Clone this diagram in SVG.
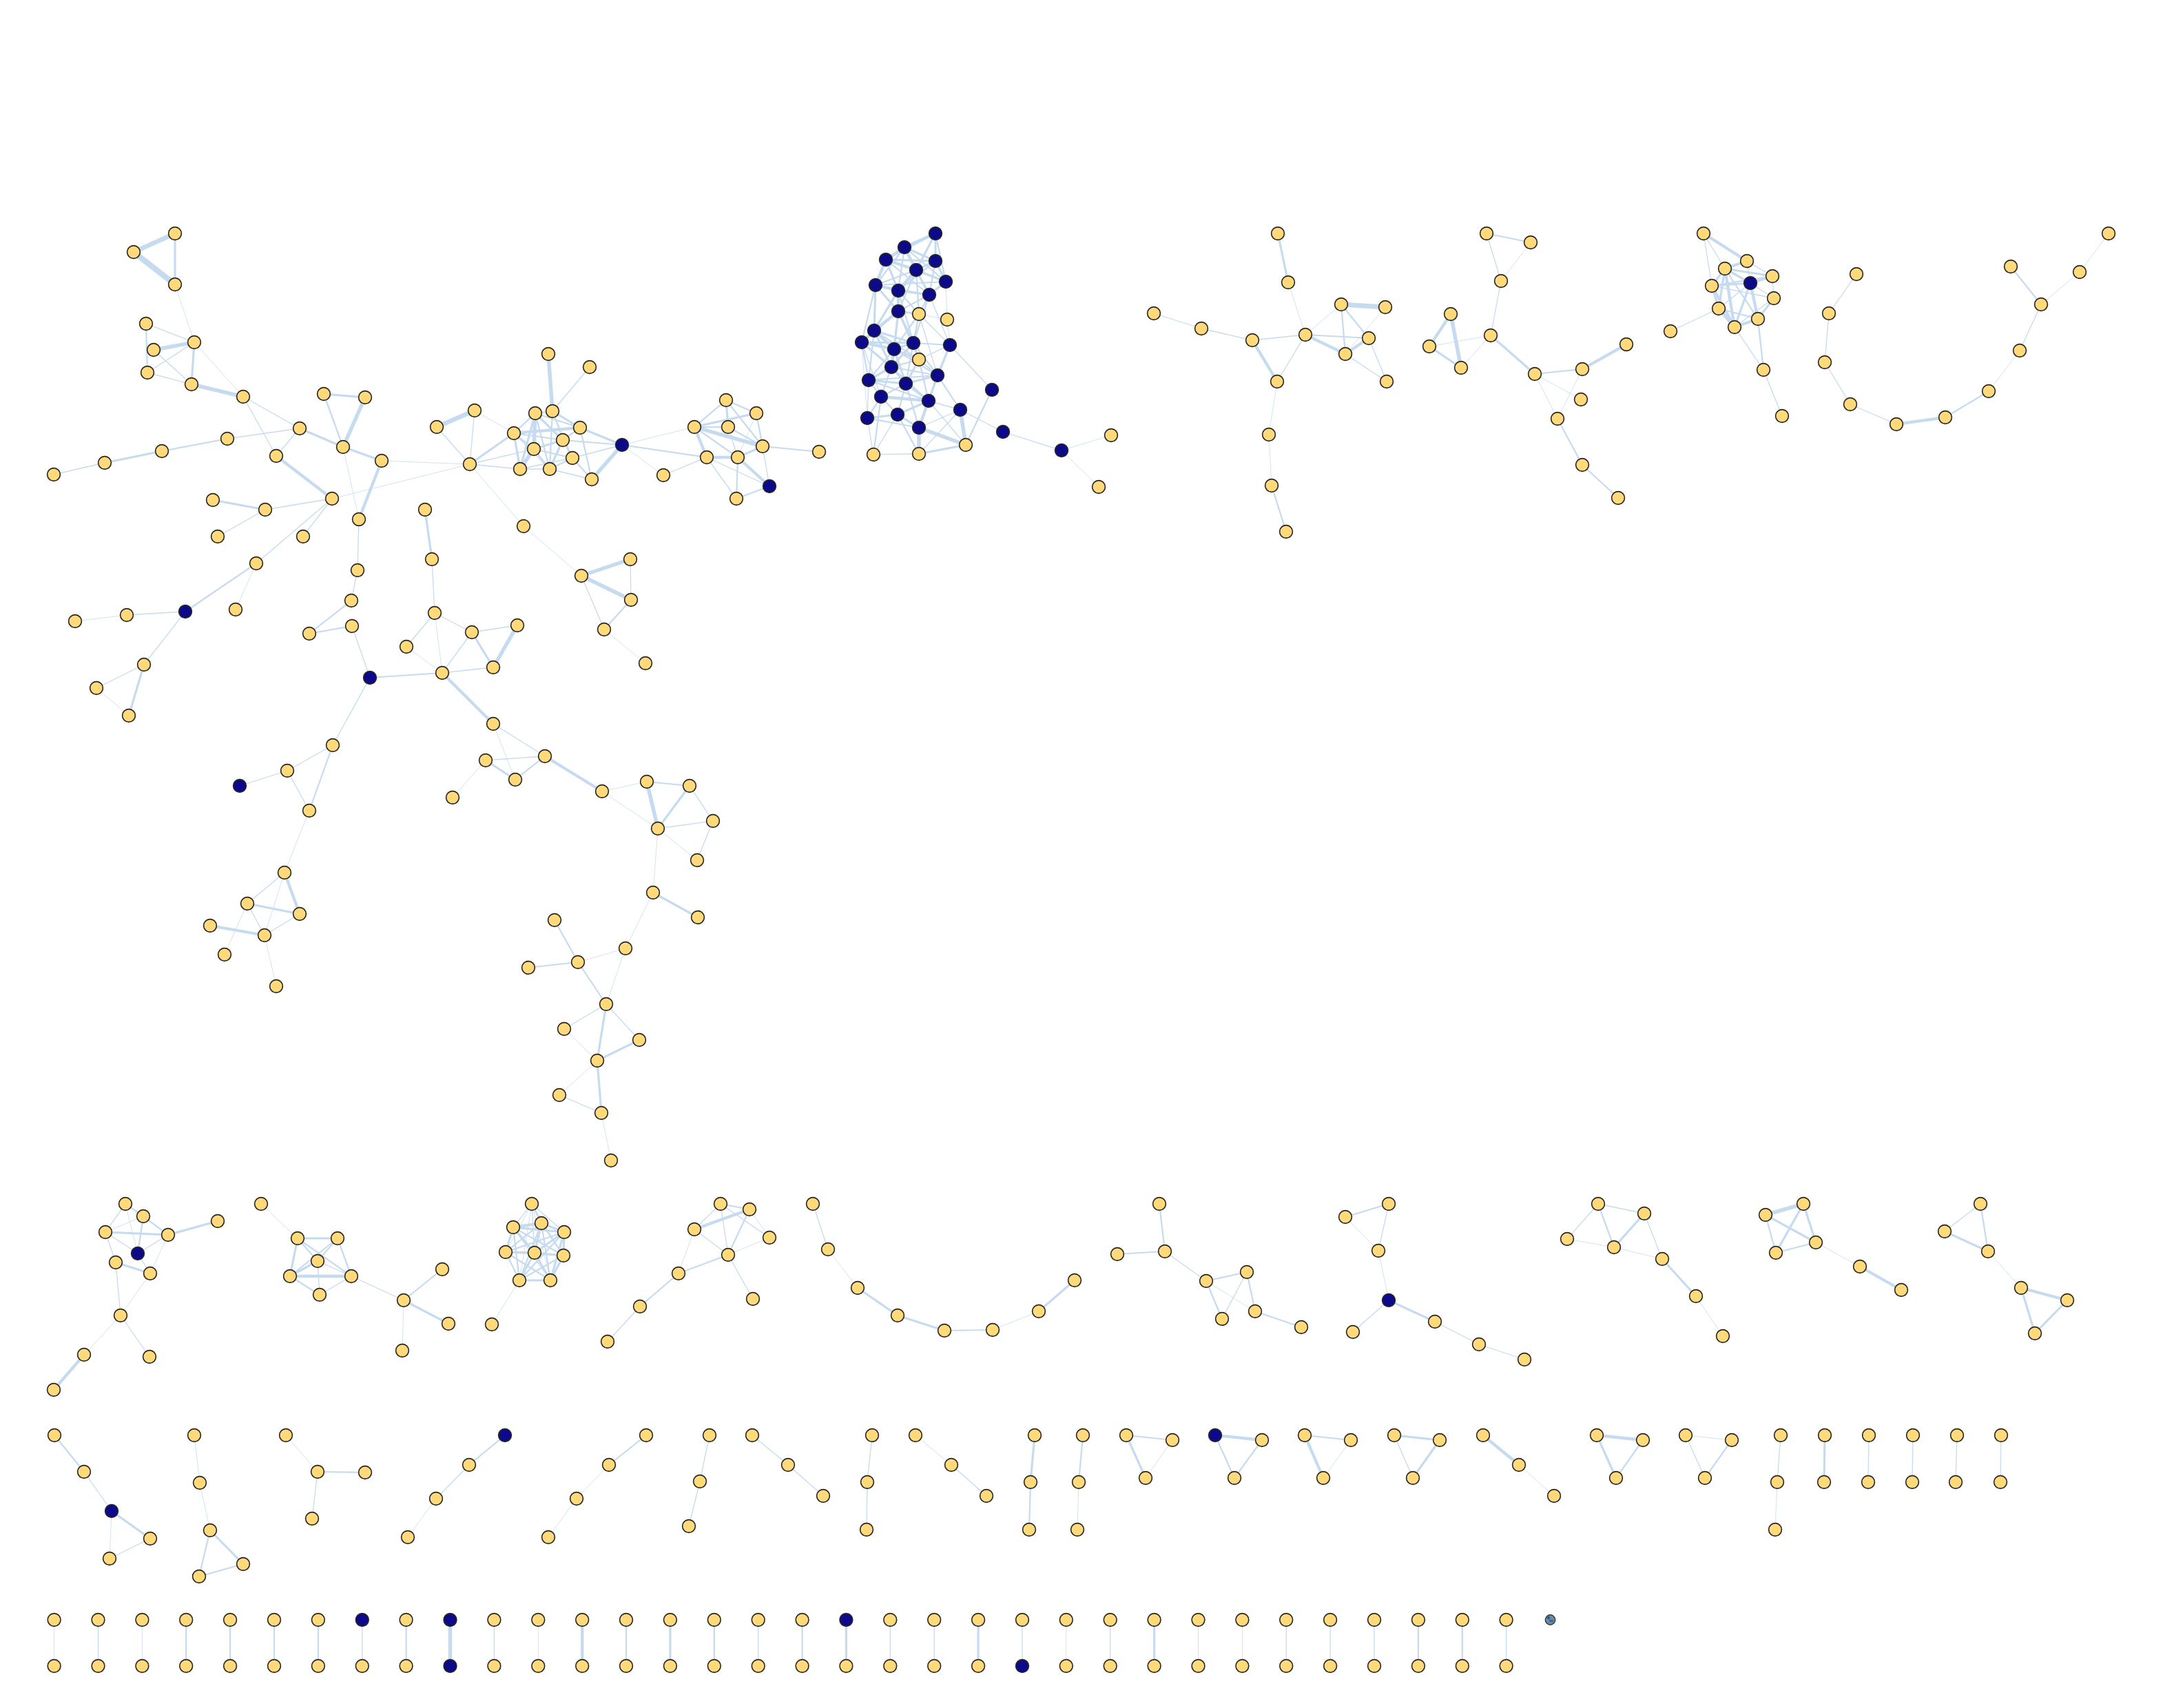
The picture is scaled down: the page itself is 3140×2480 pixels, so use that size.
<svg xmlns="http://www.w3.org/2000/svg" width="3140" height="2480" viewBox="0 0 3140 2480">
<style>
.a{stroke-width:.8}.b{stroke-width:1.3}.c{stroke-width:2.2}.d{stroke-width:3.2}.e{stroke-width:4.3}.f{stroke-width:5.5}.g{stroke-width:6.8}.h{stroke-width:8.5}
.y{fill:#ffd97a;stroke:#262626;stroke-width:1.6;r:9.4px}
.k{fill:#0c0a8a;stroke:#262626;stroke-width:1.6;r:9.4px}
</style>
<rect width="3140" height="2480" fill="#ffffff"/>
<g id="connectors" fill="none" stroke="#c6dbef">
<path class="g" d="M254 339L194 366"/><path class="h" d="M194 366L254 413"/><path class="d" d="M254 339L254 413"/><path class="a" d="M254 413L282 497"/>
<path class="b" d="M212 470L282 497"/><path class="c" d="M212 470L214 541"/><path class="f" d="M223 508L282 497"/><path class="b" d="M223 508L278 558"/>
<path class="b" d="M214 541L282 497"/><path class="b" d="M214 541L278 558"/><path class="d" d="M282 497L278 558"/><path class="f" d="M278 558L353 576"/>
<path class="a" d="M282 497L353 576"/><path class="b" d="M353 576L435 622"/><path class="b" d="M353 576L401 662"/><path class="b" d="M435 622L401 662"/>
<path class="b" d="M435 622L330 637"/><path class="c" d="M330 637L235 655"/><path class="d" d="M235 655L152 672"/><path class="b" d="M152 672L78 689"/>
<path class="d" d="M470 572L530 577"/><path class="c" d="M470 572L498 649"/><path class="f" d="M530 577L498 649"/><path class="d" d="M435 622L498 649"/>
<path class="d" d="M498 649L554 669"/><path class="e" d="M554 669L521 754"/><path class="a" d="M498 649L521 754"/><path class="b" d="M521 754L519 828"/>
<path class="b" d="M519 828L510 872"/><path class="a" d="M554 669L682 674"/><path class="e" d="M401 662L482 724"/><path class="a" d="M482 724L682 674"/>
<path class="b" d="M482 724L385 740"/><path class="d" d="M309 726L385 740"/><path class="b" d="M385 740L316 779"/><path class="b" d="M482 724L440 779"/>
<path class="b" d="M482 724L372 818"/><path class="c" d="M372 818L269 888"/><path class="a" d="M372 818L342 885"/><path class="b" d="M269 888L184 893"/>
<path class="a" d="M184 893L109 902"/><path class="b" d="M269 888L209 965"/><path class="b" d="M209 965L140 999"/><path class="d" d="M209 965L187 1039"/>
<path class="a" d="M140 999L187 1039"/><path class="c" d="M510 872L449 920"/><path class="c" d="M449 920L511 909"/><path class="b" d="M511 909L537 984"/>
<path class="c" d="M537 984L642 977"/><path class="b" d="M537 984L483 1082"/><path class="b" d="M483 1082L417 1119"/><path class="c" d="M483 1082L449 1177"/>
<path class="b" d="M417 1119L348 1141"/><path class="b" d="M417 1119L449 1177"/><path class="a" d="M449 1177L413 1267"/><path class="b" d="M413 1267L359 1312"/>
<path class="e" d="M413 1267L435 1327"/><path class="a" d="M413 1267L384 1358"/><path class="d" d="M359 1312L435 1327"/><path class="b" d="M359 1312L384 1358"/>
<path class="a" d="M359 1312L326 1386"/><path class="e" d="M305 1344L384 1358"/><path class="b" d="M435 1327L384 1358"/><path class="a" d="M384 1358L401 1432"/>
<path class="g" d="M634 620L689 596"/><path class="b" d="M634 620L682 674"/><path class="b" d="M689 596L682 674"/><path class="a" d="M689 596L746 629"/>
<path class="a" d="M682 674L760 764"/><path class="d" d="M617 740L627 812"/><path class="b" d="M627 812L631 890"/><path class="b" d="M631 890L590 939"/>
<path class="b" d="M631 890L685 918"/><path class="a" d="M631 890L642 977"/><path class="a" d="M590 939L642 977"/><path class="b" d="M685 918L751 908"/>
<path class="d" d="M685 918L716 969"/><path class="f" d="M751 908L716 969"/><path class="b" d="M685 918L642 977"/><path class="b" d="M642 977L716 969"/>
<path class="e" d="M642 977L716 1051"/><path class="b" d="M716 1051L791 1098"/><path class="a" d="M716 1051L748 1132"/><path class="b" d="M705 1104L791 1098"/>
<path class="d" d="M705 1104L748 1132"/><path class="c" d="M748 1132L791 1098"/><path class="a" d="M705 1104L657 1158"/><path class="e" d="M791 1098L874 1149"/>
<path class="a" d="M874 1149L939 1135"/><path class="a" d="M874 1149L955 1203"/><path class="c" d="M939 1135L1001 1141"/><path class="f" d="M939 1135L955 1203"/>
<path class="d" d="M1001 1141L955 1203"/><path class="b" d="M955 1203L1035 1192"/><path class="b" d="M1001 1141L1035 1192"/><path class="a" d="M955 1203L1012 1249"/>
<path class="b" d="M1035 1192L1012 1249"/><path class="a" d="M955 1203L948 1296"/><path class="d" d="M948 1296L1013 1332"/><path class="a" d="M948 1296L908 1377"/>
<path class="a" d="M908 1377L839 1397"/><path class="c" d="M805 1336L839 1397"/><path class="c" d="M839 1397L767 1405"/><path class="c" d="M839 1397L880 1458"/>
<path class="a" d="M908 1377L880 1458"/><path class="b" d="M880 1458L819 1494"/><path class="b" d="M880 1458L928 1510"/><path class="d" d="M880 1458L867 1540"/>
<path class="d" d="M928 1510L867 1540"/><path class="a" d="M819 1494L867 1540"/><path class="a" d="M867 1540L812 1590"/><path class="d" d="M867 1540L873 1616"/>
<path class="b" d="M812 1590L873 1616"/><path class="a" d="M873 1616L887 1685"/><path class="f" d="M796 514L802 597"/><path class="b" d="M856 533L802 597"/>
<path class="a" d="M760 764L844 836"/><path class="f" d="M844 836L915 812"/><path class="f" d="M844 836L916 871"/><path class="b" d="M915 812L916 871"/>
<path class="c" d="M916 871L877 914"/><path class="b" d="M844 836L877 914"/><path class="a" d="M877 914L937 963"/>
<path class="c" d="M777 600L802 597"/><path class="c" d="M777 600L746 629"/><path class="f" d="M777 600L775 652"/><path class="d" d="M777 600L755 681"/>
<path class="d" d="M777 600L817 639"/><path class="c" d="M777 600L842 621"/><path class="c" d="M777 600L798 681"/><path class="d" d="M802 597L842 621"/>
<path class="b" d="M802 597L817 639"/><path class="c" d="M802 597L798 681"/><path class="b" d="M802 597L831 665"/><path class="e" d="M746 629L842 621"/>
<path class="c" d="M746 629L775 652"/><path class="c" d="M746 629L817 639"/><path class="d" d="M746 629L755 681"/><path class="b" d="M746 629L798 681"/>
<path class="c" d="M842 621L817 639"/><path class="d" d="M842 621L903 646"/><path class="c" d="M842 621L859 696"/><path class="d" d="M775 652L817 639"/>
<path class="c" d="M775 652L831 665"/><path class="f" d="M775 652L755 681"/><path class="c" d="M775 652L798 681"/><path class="c" d="M817 639L831 665"/>
<path class="d" d="M817 639L798 681"/><path class="c" d="M817 639L903 646"/><path class="c" d="M831 665L798 681"/><path class="c" d="M831 665L859 696"/>
<path class="b" d="M755 681L798 681"/><path class="b" d="M755 681L682 674"/><path class="b" d="M798 681L859 696"/><path class="f" d="M859 696L903 646"/>
<path class="d" d="M682 674L746 629"/><path class="b" d="M682 674L775 652"/><path class="b" d="M831 665L903 646"/><path class="b" d="M755 681L831 665"/>
<path class="c" d="M903 646L1026 664"/><path class="a" d="M903 646L1008 620"/><path class="a" d="M903 646L963 690"/><path class="b" d="M963 690L1026 664"/>
<path class="c" d="M1054 581L1008 620"/><path class="d" d="M1054 581L1057 620"/><path class="c" d="M1054 581L1098 600"/><path class="c" d="M1054 581L1107 648"/>
<path class="c" d="M1008 620L1057 620"/><path class="d" d="M1008 620L1098 600"/><path class="f" d="M1008 620L1107 648"/><path class="e" d="M1008 620L1026 664"/>
<path class="c" d="M1008 620L1071 664"/><path class="c" d="M1057 620L1107 648"/><path class="b" d="M1057 620L1071 664"/><path class="c" d="M1098 600L1107 648"/>
<path class="d" d="M1107 648L1071 664"/><path class="b" d="M1107 648L1117 706"/><path class="e" d="M1026 664L1071 664"/><path class="b" d="M1026 664L1069 724"/>
<path class="b" d="M1026 664L1117 706"/><path class="e" d="M1071 664L1117 706"/><path class="c" d="M1071 664L1069 724"/><path class="c" d="M1069 724L1117 706"/>
<path class="c" d="M1107 648L1189 656"/><path class="a" d="M1098 600L1071 664"/>
<path class="e" d="M1358 339L1313 359"/><path class="d" d="M1358 339L1358 379"/><path class="d" d="M1358 339L1330 392"/><path class="c" d="M1358 339L1373 409"/>
<path class="c" d="M1358 339L1286 377"/><path class="e" d="M1313 359L1286 377"/><path class="d" d="M1313 359L1358 379"/><path class="e" d="M1313 359L1330 392"/>
<path class="c" d="M1313 359L1271 414"/><path class="c" d="M1313 359L1304 422"/><path class="c" d="M1313 359L1373 409"/><path class="c" d="M1313 359L1349 428"/>
<path class="d" d="M1286 377L1358 379"/><path class="e" d="M1286 377L1330 392"/><path class="e" d="M1286 377L1271 414"/><path class="d" d="M1286 377L1304 422"/>
<path class="c" d="M1286 377L1349 428"/><path class="c" d="M1286 377L1373 409"/><path class="d" d="M1358 379L1330 392"/><path class="d" d="M1358 379L1373 409"/>
<path class="c" d="M1358 379L1349 428"/><path class="c" d="M1358 379L1304 422"/><path class="d" d="M1330 392L1373 409"/><path class="c" d="M1330 392L1271 414"/>
<path class="e" d="M1330 392L1304 422"/><path class="d" d="M1330 392L1349 428"/><path class="c" d="M1330 392L1304 452"/><path class="c" d="M1330 392L1334 456"/>
<path class="d" d="M1373 409L1349 428"/><path class="c" d="M1373 409L1271 414"/><path class="a" d="M1373 409L1375 464"/><path class="e" d="M1271 414L1304 422"/>
<path class="d" d="M1271 414L1304 452"/><path class="d" d="M1271 414L1269 480"/><path class="c" d="M1271 414L1251 497"/><path class="c" d="M1271 414L1349 428"/>
<path class="d" d="M1304 422L1349 428"/><path class="e" d="M1304 422L1304 452"/><path class="d" d="M1304 422L1269 480"/><path class="c" d="M1304 422L1334 456"/>
<path class="c" d="M1304 422L1326 498"/><path class="c" d="M1349 428L1304 452"/><path class="c" d="M1349 428L1334 456"/><path class="b" d="M1349 428L1379 501"/>
<path class="c" d="M1349 428L1326 498"/><path class="d" d="M1304 452L1334 456"/><path class="e" d="M1304 452L1269 480"/><path class="d" d="M1304 452L1251 497"/>
<path class="d" d="M1304 452L1326 498"/><path class="d" d="M1304 452L1298 507"/><path class="c" d="M1304 452L1334 522"/><path class="c" d="M1334 456L1326 498"/>
<path class="c" d="M1334 456L1298 507"/><path class="b" d="M1334 456L1361 545"/><path class="a" d="M1334 456L1375 464"/><path class="b" d="M1334 456L1379 501"/>
<path class="e" d="M1269 480L1251 497"/><path class="d" d="M1269 480L1326 498"/><path class="e" d="M1269 480L1298 507"/><path class="d" d="M1269 480L1294 533"/>
<path class="c" d="M1269 480L1334 522"/><path class="c" d="M1269 480L1261 552"/><path class="e" d="M1251 497L1298 507"/><path class="d" d="M1251 497L1294 533"/>
<path class="c" d="M1251 497L1261 552"/><path class="d" d="M1251 497L1326 498"/><path class="b" d="M1251 497L1279 576"/><path class="a" d="M1251 497L1259 607"/>
<path class="d" d="M1326 498L1298 507"/><path class="d" d="M1326 498L1334 522"/><path class="c" d="M1326 498L1379 501"/><path class="d" d="M1326 498L1294 533"/>
<path class="c" d="M1326 498L1361 545"/><path class="c" d="M1326 498L1315 557"/><path class="d" d="M1379 501L1361 545"/><path class="b" d="M1379 501L1334 522"/>
<path class="c" d="M1379 501L1348 582"/><path class="a" d="M1379 501L1375 464"/><path class="e" d="M1298 507L1294 533"/><path class="d" d="M1298 507L1334 522"/>
<path class="c" d="M1298 507L1261 552"/><path class="d" d="M1298 507L1315 557"/><path class="c" d="M1298 507L1361 545"/><path class="c" d="M1334 522L1294 533"/>
<path class="c" d="M1334 522L1361 545"/><path class="d" d="M1334 522L1315 557"/><path class="c" d="M1334 522L1348 582"/><path class="d" d="M1294 533L1261 552"/>
<path class="d" d="M1294 533L1315 557"/><path class="c" d="M1294 533L1279 576"/><path class="c" d="M1294 533L1361 545"/><path class="c" d="M1294 533L1348 582"/>
<path class="d" d="M1361 545L1315 557"/><path class="d" d="M1361 545L1348 582"/><path class="c" d="M1361 545L1394 595"/><path class="c" d="M1361 545L1261 552"/>
<path class="d" d="M1261 552L1315 557"/><path class="c" d="M1261 552L1279 576"/><path class="b" d="M1261 552L1259 607"/><path class="c" d="M1261 552L1348 582"/>
<path class="c" d="M1315 557L1279 576"/><path class="d" d="M1315 557L1348 582"/><path class="c" d="M1315 557L1303 602"/><path class="c" d="M1315 557L1334 621"/>
<path class="e" d="M1279 576L1348 582"/><path class="c" d="M1279 576L1259 607"/><path class="c" d="M1279 576L1303 602"/><path class="c" d="M1279 576L1268 660"/>
<path class="d" d="M1348 582L1303 602"/><path class="e" d="M1348 582L1334 621"/><path class="b" d="M1348 582L1394 595"/><path class="b" d="M1348 582L1402 646"/>
<path class="d" d="M1259 607L1303 602"/><path class="c" d="M1259 607L1334 621"/><path class="b" d="M1259 607L1268 660"/><path class="d" d="M1303 602L1334 621"/>
<path class="c" d="M1303 602L1334 659"/><path class="b" d="M1303 602L1268 660"/><path class="f" d="M1334 621L1334 659"/><path class="f" d="M1334 621L1402 646"/>
<path class="b" d="M1334 621L1394 595"/><path class="f" d="M1394 595L1402 646"/><path class="b" d="M1394 595L1456 627"/><path class="b" d="M1394 595L1334 659"/>
<path class="b" d="M1379 501L1440 566"/><path class="c" d="M1440 566L1402 646"/><path class="b" d="M1268 660L1334 659"/><path class="d" d="M1334 659L1402 646"/>
<path class="b" d="M1456 627L1541 654"/><path class="a" d="M1541 654L1613 632"/><path class="a" d="M1541 654L1595 707"/>
<path class="d" d="M1855 339L1870 410"/><path class="a" d="M1870 410L1895 486"/><path class="b" d="M1675 455L1744 477"/><path class="b" d="M1744 477L1818 494"/>
<path class="b" d="M1818 494L1895 486"/><path class="e" d="M1818 494L1854 554"/><path class="b" d="M1895 486L1854 554"/><path class="a" d="M1895 486L1947 442"/>
<path class="c" d="M1895 486L1987 491"/><path class="e" d="M1895 486L1953 514"/><path class="g" d="M1947 442L2011 446"/><path class="c" d="M1947 442L1953 514"/>
<path class="c" d="M1947 442L1987 491"/><path class="a" d="M2011 446L1953 514"/><path class="e" d="M1987 491L1953 514"/><path class="b" d="M1987 491L2013 554"/>
<path class="b" d="M1953 514L2013 554"/><path class="a" d="M1854 554L1842 631"/><path class="a" d="M1842 631L1846 705"/><path class="c" d="M1846 705L1867 772"/>
<path class="c" d="M2158 339L2222 352"/><path class="b" d="M2158 339L2179 408"/><path class="a" d="M2222 352L2179 408"/><path class="b" d="M2179 408L2164 487"/>
<path class="e" d="M2106 456L2075 503"/><path class="f" d="M2106 456L2121 534"/><path class="d" d="M2075 503L2121 534"/><path class="a" d="M2075 503L2164 487"/>
<path class="a" d="M2121 534L2164 487"/><path class="d" d="M2164 487L2228 543"/><path class="c" d="M2228 543L2297 536"/><path class="e" d="M2297 536L2361 500"/>
<path class="a" d="M2228 543L2295 580"/><path class="a" d="M2297 536L2261 608"/><path class="a" d="M2228 543L2261 608"/><path class="c" d="M2261 608L2297 675"/>
<path class="c" d="M2297 675L2349 723"/>
<path class="e" d="M2473 339L2536 379"/><path class="b" d="M2473 339L2504 390"/><path class="b" d="M2473 339L2485 415"/><path class="e" d="M2536 379L2504 390"/>
<path class="b" d="M2536 379L2573 401"/><path class="b" d="M2536 379L2541 411"/><path class="d" d="M2504 390L2541 411"/><path class="d" d="M2504 390L2485 415"/>
<path class="d" d="M2504 390L2495 448"/><path class="e" d="M2504 390L2518 475"/><path class="c" d="M2504 390L2552 463"/><path class="e" d="M2573 401L2541 411"/>
<path class="b" d="M2573 401L2575 433"/><path class="c" d="M2573 401L2485 415"/><path class="d" d="M2541 411L2485 415"/><path class="b" d="M2541 411L2575 433"/>
<path class="b" d="M2541 411L2495 448"/><path class="e" d="M2541 411L2552 463"/><path class="d" d="M2541 411L2518 475"/><path class="d" d="M2485 415L2495 448"/>
<path class="e" d="M2485 415L2518 475"/><path class="d" d="M2575 433L2552 463"/><path class="b" d="M2575 433L2518 475"/><path class="c" d="M2495 448L2552 463"/>
<path class="e" d="M2495 448L2518 475"/><path class="e" d="M2552 463L2518 475"/><path class="b" d="M2495 448L2425 481"/><path class="b" d="M2518 475L2560 537"/>
<path class="c" d="M2552 463L2560 537"/><path class="b" d="M2560 537L2587 604"/><path class="b" d="M2485 415L2575 433"/><path class="d" d="M2504 390L2573 401"/>
<path class="b" d="M2695 398L2655 455"/><path class="b" d="M2655 455L2649 526"/><path class="b" d="M2649 526L2686 587"/><path class="b" d="M2686 587L2753 616"/>
<path class="e" d="M2753 616L2824 606"/><path class="c" d="M2824 606L2887 568"/><path class="a" d="M2887 568L2932 509"/><path class="b" d="M2932 509L2963 442"/>
<path class="c" d="M2963 442L2919 387"/><path class="a" d="M2963 442L3019 395"/><path class="a" d="M3019 395L3061 339"/>
<path class="c" d="M182 1748L208 1766"/><path class="b" d="M182 1748L153 1789"/><path class="a" d="M182 1748L244 1793"/><path class="a" d="M182 1748L200 1820"/>
<path class="a" d="M208 1766L153 1789"/><path class="c" d="M208 1766L244 1793"/><path class="c" d="M208 1766L200 1820"/><path class="d" d="M316 1773L244 1793"/>
<path class="d" d="M153 1789L244 1793"/><path class="b" d="M153 1789L200 1820"/><path class="b" d="M153 1789L168 1833"/><path class="b" d="M244 1793L200 1820"/>
<path class="a" d="M244 1793L218 1849"/><path class="b" d="M200 1820L218 1849"/><path class="d" d="M168 1833L218 1849"/><path class="b" d="M168 1833L175 1910"/>
<path class="a" d="M218 1849L175 1910"/><path class="b" d="M175 1910L217 1970"/><path class="a" d="M175 1910L122 1967"/><path class="e" d="M122 1967L78 2018"/>
<path class="a" d="M379 1748L432 1798"/><path class="d" d="M432 1798L490 1798"/><path class="c" d="M432 1798L461 1831"/><path class="d" d="M432 1798L421 1853"/>
<path class="c" d="M432 1798L510 1853"/><path class="c" d="M490 1798L461 1831"/><path class="c" d="M490 1798L421 1853"/><path class="c" d="M490 1798L510 1853"/>
<path class="d" d="M461 1831L421 1853"/><path class="b" d="M461 1831L510 1853"/><path class="b" d="M461 1831L464 1880"/><path class="e" d="M421 1853L510 1853"/>
<path class="c" d="M421 1853L464 1880"/><path class="b" d="M510 1853L464 1880"/><path class="b" d="M510 1853L586 1888"/><path class="c" d="M586 1888L642 1843"/>
<path class="d" d="M586 1888L651 1922"/><path class="a" d="M586 1888L584 1961"/>
<path class="b" d="M772 1748L745 1782"/><path class="c" d="M772 1748L786 1776"/><path class="b" d="M772 1748L819 1789"/><path class="a" d="M772 1748L734 1818"/>
<path class="b" d="M772 1748L776 1819"/><path class="a" d="M772 1748L818 1823"/><path class="a" d="M772 1748L754 1859"/><path class="a" d="M772 1748L799 1859"/>
<path class="e" d="M745 1782L786 1776"/><path class="d" d="M745 1782L819 1789"/><path class="d" d="M745 1782L734 1818"/><path class="d" d="M745 1782L776 1819"/>
<path class="c" d="M745 1782L818 1823"/><path class="c" d="M745 1782L754 1859"/><path class="b" d="M745 1782L799 1859"/><path class="d" d="M786 1776L819 1789"/>
<path class="c" d="M786 1776L734 1818"/><path class="d" d="M786 1776L776 1819"/><path class="c" d="M786 1776L818 1823"/><path class="c" d="M786 1776L754 1859"/>
<path class="c" d="M786 1776L799 1859"/><path class="c" d="M819 1789L734 1818"/><path class="d" d="M819 1789L776 1819"/><path class="d" d="M819 1789L818 1823"/>
<path class="c" d="M819 1789L754 1859"/><path class="d" d="M819 1789L799 1859"/><path class="d" d="M734 1818L776 1819"/><path class="c" d="M734 1818L818 1823"/>
<path class="c" d="M734 1818L754 1859"/><path class="c" d="M734 1818L799 1859"/><path class="d" d="M776 1819L818 1823"/><path class="d" d="M776 1819L754 1859"/>
<path class="d" d="M776 1819L799 1859"/><path class="c" d="M818 1823L754 1859"/><path class="d" d="M818 1823L799 1859"/><path class="d" d="M754 1859L799 1859"/>
<path class="a" d="M754 1859L714 1923"/>
<path class="c" d="M1046 1748L1088 1756"/><path class="b" d="M1046 1748L1008 1785"/><path class="b" d="M1046 1748L1057 1822"/><path class="b" d="M1046 1748L1117 1797"/>
<path class="e" d="M1088 1756L1008 1785"/><path class="c" d="M1088 1756L1057 1822"/><path class="a" d="M1088 1756L1117 1797"/><path class="b" d="M1008 1785L1057 1822"/>
<path class="a" d="M1117 1797L1057 1822"/><path class="a" d="M1008 1785L985 1849"/><path class="c" d="M1057 1822L985 1849"/><path class="b" d="M1057 1822L1093 1886"/>
<path class="c" d="M985 1849L929 1897"/><path class="b" d="M929 1897L882 1948"/>
<path class="b" d="M1180 1748L1202 1814"/><path class="a" d="M1202 1814L1245 1870"/><path class="d" d="M1245 1870L1303 1910"/><path class="d" d="M1303 1910L1371 1932"/>
<path class="c" d="M1371 1932L1441 1931"/><path class="a" d="M1441 1931L1508 1904"/><path class="d" d="M1508 1904L1560 1859"/>
<path class="c" d="M1683 1748L1691 1817"/><path class="c" d="M1691 1817L1622 1821"/><path class="b" d="M1691 1817L1751 1860"/><path class="c" d="M1751 1860L1810 1847"/>
<path class="c" d="M1751 1860L1774 1915"/><path class="b" d="M1810 1847L1774 1915"/><path class="c" d="M1810 1847L1822 1904"/><path class="a" d="M1751 1860L1822 1904"/>
<path class="c" d="M1822 1904L1889 1927"/>
<path class="c" d="M2016 1748L1953 1767"/><path class="b" d="M2016 1748L2001 1816"/><path class="a" d="M1953 1767L2001 1816"/><path class="a" d="M2001 1816L2016 1888"/>
<path class="b" d="M2016 1888L1964 1934"/><path class="d" d="M2016 1888L2083 1919"/><path class="b" d="M2083 1919L2147 1952"/><path class="b" d="M2147 1952L2213 1974"/>
<path class="b" d="M2320 1748L2387 1762"/><path class="b" d="M2320 1748L2275 1799"/><path class="c" d="M2320 1748L2343 1811"/><path class="d" d="M2387 1762L2343 1811"/>
<path class="b" d="M2387 1762L2413 1828"/><path class="a" d="M2275 1799L2343 1811"/><path class="a" d="M2343 1811L2413 1828"/><path class="d" d="M2413 1828L2462 1882"/>
<path class="a" d="M2462 1882L2501 1940"/>
<path class="f" d="M2618 1748L2563 1764"/><path class="d" d="M2618 1748L2636 1804"/><path class="d" d="M2618 1748L2578 1819"/><path class="d" d="M2563 1764L2636 1804"/>
<path class="c" d="M2563 1764L2578 1819"/><path class="c" d="M2636 1804L2578 1819"/><path class="a" d="M2636 1804L2700 1839"/><path class="e" d="M2700 1839L2760 1873"/>
<path class="b" d="M2875 1748L2823 1788"/><path class="c" d="M2875 1748L2886 1817"/><path class="d" d="M2823 1788L2886 1817"/><path class="a" d="M2886 1817L2934 1870"/>
<path class="e" d="M2934 1870L3001 1888"/><path class="d" d="M2934 1870L2954 1936"/><path class="d" d="M3001 1888L2954 1936"/>
<path class="c" d="M79 2084L122 2137"/><path class="b" d="M122 2137L162 2194"/><path class="d" d="M162 2194L218 2234"/><path class="a" d="M162 2194L159 2263"/>
<path class="b" d="M218 2234L159 2263"/>
<path class="a" d="M282 2084L290 2153"/><path class="a" d="M290 2153L305 2222"/><path class="d" d="M305 2222L353 2271"/><path class="c" d="M305 2222L289 2289"/>
<path class="c" d="M353 2271L289 2289"/>
<path class="a" d="M415 2084L461 2137"/><path class="c" d="M461 2137L530 2138"/><path class="b" d="M461 2137L453 2205"/>
<path class="c" d="M733 2084L681 2127"/><path class="b" d="M681 2127L633 2176"/><path class="a" d="M633 2176L592 2232"/>
<path class="c" d="M938 2084L884 2127"/><path class="a" d="M884 2127L837 2176"/><path class="a" d="M837 2176L796 2232"/>
<path class="b" d="M1030 2084L1016 2151"/><path class="b" d="M1016 2151L1000 2216"/>
<path class="b" d="M1092 2084L1144 2127"/><path class="b" d="M1144 2127L1195 2172"/>
<path class="b" d="M1266 2084L1259 2152"/><path class="b" d="M1259 2152L1258 2221"/>
<path class="a" d="M1329 2084L1381 2127"/><path class="b" d="M1381 2127L1432 2172"/>
<path class="d" d="M1502 2084L1496 2152"/><path class="c" d="M1496 2152L1494 2221"/>
<path class="c" d="M1572 2084L1566 2152"/><path class="a" d="M1566 2152L1564 2221"/>
<path class="c" d="M1635 2084L1702 2091"/><path class="d" d="M1635 2084L1663 2146"/><path class="a" d="M1702 2091L1663 2146"/>
<path class="e" d="M1764 2084L1832 2091"/><path class="c" d="M1764 2084L1792 2146"/><path class="c" d="M1832 2091L1792 2146"/>
<path class="c" d="M1894 2084L1961 2091"/><path class="e" d="M1894 2084L1921 2146"/><path class="a" d="M1961 2091L1921 2146"/>
<path class="d" d="M2024 2084L2090 2091"/><path class="b" d="M2024 2084L2051 2146"/><path class="d" d="M2090 2091L2051 2146"/>
<path class="e" d="M2153 2084L2205 2127"/><path class="a" d="M2205 2127L2256 2172"/>
<path class="e" d="M2318 2084L2385 2091"/><path class="d" d="M2318 2084L2346 2146"/><path class="c" d="M2385 2091L2346 2146"/>
<path class="a" d="M2447 2084L2514 2091"/><path class="b" d="M2447 2084L2475 2146"/><path class="c" d="M2514 2091L2475 2146"/>
<path class="b" d="M2585 2084L2580 2152"/><path class="a" d="M2580 2152L2577 2221"/>
<path class="d" d="M2649 2084L2648 2152"/><path class="b" d="M2713 2084L2712 2152"/><path class="b" d="M2777 2084L2776 2152"/><path class="b" d="M2841 2084L2839 2152"/><path class="b" d="M2905 2084L2904 2152"/>
<path class="a" d="M78.6 2352V2419"/><path class="b" d="M142.5 2352V2419"/><path class="a" d="M206.4 2352V2419"/><path class="c" d="M270.2 2352V2419"/>
<path class="c" d="M334.1 2352V2419"/><path class="c" d="M398 2352V2419"/><path class="c" d="M461.9 2352V2419"/><path class="b" d="M525.8 2352V2419"/>
<path class="c" d="M589.6 2352V2419"/><path class="f" d="M653.5 2352V2419"/><path class="b" d="M717.4 2352V2419"/><path class="a" d="M781.3 2352V2419"/>
<path class="e" d="M845.2 2352V2419"/><path class="c" d="M909 2352V2419"/><path class="d" d="M972.9 2352V2419"/><path class="c" d="M1036.8 2352V2419"/>
<path class="b" d="M1100.7 2352V2419"/><path class="c" d="M1164.6 2352V2419"/><path class="d" d="M1228.4 2352V2419"/><path class="b" d="M1292.3 2352V2419"/>
<path class="b" d="M1356.2 2352V2419"/><path class="d" d="M1420.1 2352V2419"/><path class="b" d="M1484 2352V2419"/><path class="a" d="M1547.8 2352V2419"/>
<path class="b" d="M1611.7 2352V2419"/><path class="d" d="M1675.6 2352V2419"/><path class="a" d="M1739.5 2352V2419"/><path class="a" d="M1803.4 2352V2419"/>
<path class="b" d="M1867.2 2352V2419"/><path class="b" d="M1931.1 2352V2419"/><path class="b" d="M1995 2352V2419"/><path class="c" d="M2058.9 2352V2419"/>
<path class="c" d="M2122.8 2352V2419"/><path class="b" d="M2186.6 2352V2419"/>
</g>
<g id="nodes">
<g id="n1"><circle class="y" cx="254" cy="339" r="8.7"/></g><g id="n2"><circle class="y" cx="194" cy="366" r="8.7"/></g><g id="n3"><circle class="y" cx="254" cy="413" r="8.7"/></g>
<g id="n4"><circle class="y" cx="212" cy="470" r="8.7"/></g><g id="n5"><circle class="y" cx="282" cy="497" r="8.7"/></g><g id="n6"><circle class="y" cx="223" cy="508" r="8.7"/></g>
<g id="n7"><circle class="y" cx="214" cy="541" r="8.7"/></g><g id="n8"><circle class="y" cx="278" cy="558" r="8.7"/></g><g id="n9"><circle class="y" cx="353" cy="576" r="8.7"/></g>
<g id="n10"><circle class="y" cx="470" cy="572" r="8.7"/></g><g id="n11"><circle class="y" cx="530" cy="577" r="8.7"/></g><g id="n12"><circle class="y" cx="435" cy="622" r="8.7"/></g>
<g id="n13"><circle class="y" cx="401" cy="662" r="8.7"/></g><g id="n14"><circle class="y" cx="498" cy="649" r="8.7"/></g><g id="n15"><circle class="y" cx="554" cy="669" r="8.7"/></g>
<g id="n16"><circle class="y" cx="330" cy="637" r="8.7"/></g><g id="n17"><circle class="y" cx="235" cy="655" r="8.7"/></g><g id="n18"><circle class="y" cx="152" cy="672" r="8.7"/></g>
<g id="n19"><circle class="y" cx="78" cy="689" r="8.7"/></g><g id="n20"><circle class="y" cx="309" cy="726" r="8.7"/></g><g id="n21"><circle class="y" cx="385" cy="740" r="8.7"/></g>
<g id="n22"><circle class="y" cx="316" cy="779" r="8.7"/></g><g id="n23"><circle class="y" cx="482" cy="724" r="8.7"/></g><g id="n24"><circle class="y" cx="440" cy="779" r="8.7"/></g>
<g id="n25"><circle class="y" cx="521" cy="754" r="8.7"/></g><g id="n26"><circle class="y" cx="372" cy="818" r="8.7"/></g><g id="n27"><circle class="y" cx="519" cy="828" r="8.7"/></g>
<g id="n28"><circle class="k" cx="269" cy="888" r="8.7"/></g><g id="n29"><circle class="y" cx="342" cy="885" r="8.7"/></g><g id="n30"><circle class="y" cx="184" cy="893" r="8.7"/></g>
<g id="n31"><circle class="y" cx="109" cy="902" r="8.7"/></g><g id="n32"><circle class="y" cx="510" cy="872" r="8.7"/></g><g id="n33"><circle class="y" cx="449" cy="920" r="8.7"/></g>
<g id="n34"><circle class="y" cx="511" cy="909" r="8.7"/></g><g id="n35"><circle class="y" cx="209" cy="965" r="8.7"/></g><g id="n36"><circle class="y" cx="140" cy="999" r="8.7"/></g>
<g id="n37"><circle class="y" cx="187" cy="1039" r="8.7"/></g><g id="n38"><circle class="k" cx="537" cy="984" r="8.7"/></g><g id="n39"><circle class="y" cx="617" cy="740" r="8.7"/></g>
<g id="n40"><circle class="y" cx="627" cy="812" r="8.7"/></g><g id="n41"><circle class="y" cx="631" cy="890" r="8.7"/></g><g id="n42"><circle class="y" cx="590" cy="939" r="8.7"/></g>
<g id="n43"><circle class="y" cx="685" cy="918" r="8.7"/></g><g id="n44"><circle class="y" cx="751" cy="908" r="8.7"/></g><g id="n45"><circle class="y" cx="716" cy="969" r="8.7"/></g>
<g id="n46"><circle class="y" cx="642" cy="977" r="8.7"/></g><g id="n47"><circle class="y" cx="483" cy="1082" r="8.7"/></g><g id="n48"><circle class="y" cx="417" cy="1119" r="8.7"/></g>
<g id="n49"><circle class="k" cx="348" cy="1141" r="8.7"/></g><g id="n50"><circle class="y" cx="449" cy="1177" r="8.7"/></g><g id="n51"><circle class="y" cx="716" cy="1051" r="8.7"/></g>
<g id="n52"><circle class="y" cx="791" cy="1098" r="8.7"/></g><g id="n53"><circle class="y" cx="705" cy="1104" r="8.7"/></g><g id="n54"><circle class="y" cx="748" cy="1132" r="8.7"/></g>
<g id="n55"><circle class="y" cx="657" cy="1158" r="8.7"/></g><g id="n56"><circle class="y" cx="874" cy="1149" r="8.7"/></g><g id="n57"><circle class="y" cx="939" cy="1135" r="8.7"/></g>
<g id="n58"><circle class="y" cx="1001" cy="1141" r="8.7"/></g><g id="n59"><circle class="y" cx="955" cy="1203" r="8.7"/></g><g id="n60"><circle class="y" cx="1035" cy="1192" r="8.7"/></g>
<g id="n61"><circle class="y" cx="1012" cy="1249" r="8.7"/></g><g id="n62"><circle class="y" cx="948" cy="1296" r="8.7"/></g><g id="n63"><circle class="y" cx="1013" cy="1332" r="8.7"/></g>
<g id="n64"><circle class="y" cx="805" cy="1336" r="8.7"/></g><g id="n65"><circle class="y" cx="839" cy="1397" r="8.7"/></g><g id="n66"><circle class="y" cx="767" cy="1405" r="8.7"/></g>
<g id="n67"><circle class="y" cx="908" cy="1377" r="8.7"/></g><g id="n68"><circle class="y" cx="880" cy="1458" r="8.7"/></g><g id="n69"><circle class="y" cx="928" cy="1510" r="8.7"/></g>
<g id="n70"><circle class="y" cx="819" cy="1494" r="8.7"/></g><g id="n71"><circle class="y" cx="867" cy="1540" r="8.7"/></g><g id="n72"><circle class="y" cx="812" cy="1590" r="8.7"/></g>
<g id="n73"><circle class="y" cx="873" cy="1616" r="8.7"/></g><g id="n74"><circle class="y" cx="887" cy="1685" r="8.7"/></g><g id="n75"><circle class="y" cx="413" cy="1267" r="8.7"/></g>
<g id="n76"><circle class="y" cx="359" cy="1312" r="8.7"/></g><g id="n77"><circle class="y" cx="435" cy="1327" r="8.7"/></g><g id="n78"><circle class="y" cx="305" cy="1344" r="8.7"/></g>
<g id="n79"><circle class="y" cx="384" cy="1358" r="8.7"/></g><g id="n80"><circle class="y" cx="326" cy="1386" r="8.7"/></g><g id="n81"><circle class="y" cx="401" cy="1432" r="8.7"/></g>
<g id="n82"><circle class="y" cx="796" cy="514" r="8.7"/></g><g id="n83"><circle class="y" cx="856" cy="533" r="8.7"/></g><g id="n84"><circle class="y" cx="634" cy="620" r="8.7"/></g>
<g id="n85"><circle class="y" cx="689" cy="596" r="8.7"/></g><g id="n86"><circle class="y" cx="777" cy="600" r="8.7"/></g><g id="n87"><circle class="y" cx="802" cy="597" r="8.7"/></g>
<g id="n88"><circle class="y" cx="746" cy="629" r="8.7"/></g><g id="n89"><circle class="y" cx="842" cy="621" r="8.7"/></g><g id="n90"><circle class="y" cx="775" cy="652" r="8.7"/></g>
<g id="n91"><circle class="y" cx="817" cy="639" r="8.7"/></g><g id="n92"><circle class="y" cx="831" cy="665" r="8.7"/></g><g id="n93"><circle class="y" cx="755" cy="681" r="8.7"/></g>
<g id="n94"><circle class="y" cx="798" cy="681" r="8.7"/></g><g id="n95"><circle class="y" cx="682" cy="674" r="8.7"/></g><g id="n96"><circle class="y" cx="859" cy="696" r="8.7"/></g>
<g id="n97"><circle class="k" cx="903" cy="646" r="8.7"/></g><g id="n98"><circle class="y" cx="760" cy="764" r="8.7"/></g><g id="n99"><circle class="y" cx="844" cy="836" r="8.7"/></g>
<g id="n100"><circle class="y" cx="915" cy="812" r="8.7"/></g><g id="n101"><circle class="y" cx="916" cy="871" r="8.7"/></g><g id="n102"><circle class="y" cx="877" cy="914" r="8.7"/></g>
<g id="n103"><circle class="y" cx="937" cy="963" r="8.7"/></g><g id="n104"><circle class="y" cx="1054" cy="581" r="8.7"/></g><g id="n105"><circle class="y" cx="1098" cy="600" r="8.7"/></g>
<g id="n106"><circle class="y" cx="1008" cy="620" r="8.7"/></g><g id="n107"><circle class="y" cx="1057" cy="620" r="8.7"/></g><g id="n108"><circle class="y" cx="1107" cy="648" r="8.7"/></g>
<g id="n109"><circle class="y" cx="1026" cy="664" r="8.7"/></g><g id="n110"><circle class="y" cx="1071" cy="664" r="8.7"/></g><g id="n111"><circle class="k" cx="1117" cy="706" r="8.7"/></g>
<g id="n112"><circle class="y" cx="1069" cy="724" r="8.7"/></g><g id="n113"><circle class="y" cx="963" cy="690" r="8.7"/></g><g id="n114"><circle class="y" cx="1189" cy="656" r="8.7"/></g>
<g id="b1"><circle class="k" cx="1358" cy="339" r="8.7"/></g><g id="b2"><circle class="k" cx="1313" cy="359" r="8.7"/></g><g id="b3"><circle class="k" cx="1286" cy="377" r="8.7"/></g>
<g id="b4"><circle class="k" cx="1358" cy="379" r="8.7"/></g><g id="b5"><circle class="k" cx="1330" cy="392" r="8.7"/></g><g id="b6"><circle class="k" cx="1373" cy="409" r="8.7"/></g>
<g id="b7"><circle class="k" cx="1271" cy="414" r="8.7"/></g><g id="b8"><circle class="k" cx="1304" cy="422" r="8.7"/></g><g id="b9"><circle class="k" cx="1349" cy="428" r="8.7"/></g>
<g id="b10"><circle class="k" cx="1304" cy="452" r="8.7"/></g><g id="by1"><circle class="y" cx="1334" cy="456" r="8.7"/></g><g id="by2"><circle class="y" cx="1375" cy="464" r="8.7"/></g>
<g id="b11"><circle class="k" cx="1269" cy="480" r="8.7"/></g><g id="b12"><circle class="k" cx="1251" cy="497" r="8.7"/></g><g id="b13"><circle class="k" cx="1326" cy="498" r="8.7"/></g>
<g id="b14"><circle class="k" cx="1379" cy="501" r="8.7"/></g><g id="b15"><circle class="k" cx="1298" cy="507" r="8.7"/></g><g id="by3"><circle class="y" cx="1334" cy="522" r="8.7"/></g>
<g id="b16"><circle class="k" cx="1294" cy="533" r="8.7"/></g><g id="b17"><circle class="k" cx="1361" cy="545" r="8.7"/></g><g id="b18"><circle class="k" cx="1261" cy="552" r="8.7"/></g>
<g id="b19"><circle class="k" cx="1315" cy="557" r="8.7"/></g><g id="b20"><circle class="k" cx="1440" cy="566" r="8.7"/></g><g id="b21"><circle class="k" cx="1279" cy="576" r="8.7"/></g>
<g id="b22"><circle class="k" cx="1348" cy="582" r="8.7"/></g><g id="b23"><circle class="k" cx="1394" cy="595" r="8.7"/></g><g id="b24"><circle class="k" cx="1259" cy="607" r="8.7"/></g>
<g id="b25"><circle class="k" cx="1303" cy="602" r="8.7"/></g><g id="b26"><circle class="k" cx="1334" cy="621" r="8.7"/></g><g id="b27"><circle class="k" cx="1456" cy="627" r="8.7"/></g>
<g id="by4"><circle class="y" cx="1402" cy="646" r="8.7"/></g><g id="by5"><circle class="y" cx="1268" cy="660" r="8.7"/></g><g id="by6"><circle class="y" cx="1334" cy="659" r="8.7"/></g>
<g id="b28"><circle class="k" cx="1541" cy="654" r="8.7"/></g><g id="by8"><circle class="y" cx="1613" cy="632" r="8.7"/></g><g id="by9"><circle class="y" cx="1595" cy="707" r="8.7"/></g>
<g id="r1"><circle class="y" cx="1855" cy="339" r="8.7"/></g><g id="r2"><circle class="y" cx="1870" cy="410" r="8.7"/></g><g id="r3"><circle class="y" cx="1675" cy="455" r="8.7"/></g>
<g id="r4"><circle class="y" cx="1744" cy="477" r="8.7"/></g><g id="r5"><circle class="y" cx="1818" cy="494" r="8.7"/></g><g id="r6"><circle class="y" cx="1895" cy="486" r="8.7"/></g>
<g id="r7"><circle class="y" cx="1947" cy="442" r="8.7"/></g><g id="r8"><circle class="y" cx="2011" cy="446" r="8.7"/></g><g id="r9"><circle class="y" cx="1987" cy="491" r="8.7"/></g>
<g id="r10"><circle class="y" cx="1953" cy="514" r="8.7"/></g><g id="r11"><circle class="y" cx="1854" cy="554" r="8.7"/></g><g id="r12"><circle class="y" cx="2013" cy="554" r="8.7"/></g>
<g id="r13"><circle class="y" cx="1842" cy="631" r="8.7"/></g><g id="r14"><circle class="y" cx="1846" cy="705" r="8.7"/></g><g id="r15"><circle class="y" cx="1867" cy="772" r="8.7"/></g>
<g id="s1"><circle class="y" cx="2158" cy="339" r="8.7"/></g><g id="s2"><circle class="y" cx="2222" cy="352" r="8.7"/></g><g id="s3"><circle class="y" cx="2179" cy="408" r="8.7"/></g>
<g id="s4"><circle class="y" cx="2106" cy="456" r="8.7"/></g><g id="s5"><circle class="y" cx="2075" cy="503" r="8.7"/></g><g id="s6"><circle class="y" cx="2121" cy="534" r="8.7"/></g>
<g id="s7"><circle class="y" cx="2164" cy="487" r="8.7"/></g><g id="s8"><circle class="y" cx="2228" cy="543" r="8.7"/></g><g id="s9"><circle class="y" cx="2297" cy="536" r="8.7"/></g>
<g id="s10"><circle class="y" cx="2361" cy="500" r="8.7"/></g><g id="s11"><circle class="y" cx="2295" cy="580" r="8.7"/></g><g id="s12"><circle class="y" cx="2261" cy="608" r="8.7"/></g>
<g id="s13"><circle class="y" cx="2297" cy="675" r="8.7"/></g><g id="s14"><circle class="y" cx="2349" cy="723" r="8.7"/></g>
<g id="u1"><circle class="y" cx="2473" cy="339" r="8.7"/></g><g id="u2"><circle class="y" cx="2536" cy="379" r="8.7"/></g><g id="u3"><circle class="y" cx="2504" cy="390" r="8.7"/></g>
<g id="u4"><circle class="y" cx="2573" cy="401" r="8.7"/></g><g id="u5"><circle class="k" cx="2541" cy="411" r="8.7"/></g><g id="u6"><circle class="y" cx="2485" cy="415" r="8.7"/></g>
<g id="u7"><circle class="y" cx="2575" cy="433" r="8.7"/></g><g id="u8"><circle class="y" cx="2495" cy="448" r="8.7"/></g><g id="u9"><circle class="y" cx="2552" cy="463" r="8.7"/></g>
<g id="u10"><circle class="y" cx="2518" cy="475" r="8.7"/></g><g id="u11"><circle class="y" cx="2425" cy="481" r="8.7"/></g><g id="u12"><circle class="y" cx="2560" cy="537" r="8.7"/></g>
<g id="u13"><circle class="y" cx="2587" cy="604" r="8.7"/></g>
<g id="v1"><circle class="y" cx="2695" cy="398" r="8.7"/></g><g id="v2"><circle class="y" cx="2655" cy="455" r="8.7"/></g><g id="v3"><circle class="y" cx="2649" cy="526" r="8.7"/></g>
<g id="v4"><circle class="y" cx="2686" cy="587" r="8.7"/></g><g id="v5"><circle class="y" cx="2753" cy="616" r="8.7"/></g><g id="v6"><circle class="y" cx="2824" cy="606" r="8.7"/></g>
<g id="v7"><circle class="y" cx="2887" cy="568" r="8.7"/></g><g id="v8"><circle class="y" cx="2932" cy="509" r="8.7"/></g><g id="v9"><circle class="y" cx="2963" cy="442" r="8.7"/></g>
<g id="v10"><circle class="y" cx="2919" cy="387" r="8.7"/></g><g id="v11"><circle class="y" cx="3019" cy="395" r="8.7"/></g><g id="v12"><circle class="y" cx="3061" cy="339" r="8.7"/></g>
<g id="g1"><circle class="y" cx="182" cy="1748" r="8.7"/></g><g id="g2"><circle class="y" cx="208" cy="1766" r="8.7"/></g><g id="g3"><circle class="y" cx="316" cy="1773" r="8.7"/></g>
<g id="g4"><circle class="y" cx="153" cy="1789" r="8.7"/></g><g id="g5"><circle class="y" cx="244" cy="1793" r="8.7"/></g><g id="g6"><circle class="k" cx="200" cy="1820" r="8.7"/></g>
<g id="g7"><circle class="y" cx="168" cy="1833" r="8.7"/></g><g id="g8"><circle class="y" cx="218" cy="1849" r="8.7"/></g><g id="g9"><circle class="y" cx="175" cy="1910" r="8.7"/></g>
<g id="g10"><circle class="y" cx="217" cy="1970" r="8.7"/></g><g id="g11"><circle class="y" cx="122" cy="1967" r="8.7"/></g><g id="g12"><circle class="y" cx="78" cy="2018" r="8.7"/></g>
<g id="h1"><circle class="y" cx="379" cy="1748" r="8.7"/></g><g id="h2"><circle class="y" cx="432" cy="1798" r="8.7"/></g><g id="h3"><circle class="y" cx="490" cy="1798" r="8.7"/></g>
<g id="h4"><circle class="y" cx="461" cy="1831" r="8.7"/></g><g id="h5"><circle class="y" cx="421" cy="1853" r="8.7"/></g><g id="h6"><circle class="y" cx="510" cy="1853" r="8.7"/></g>
<g id="h7"><circle class="y" cx="464" cy="1880" r="8.7"/></g><g id="h8"><circle class="y" cx="586" cy="1888" r="8.7"/></g><g id="h9"><circle class="y" cx="642" cy="1843" r="8.7"/></g>
<g id="h10"><circle class="y" cx="651" cy="1922" r="8.7"/></g><g id="h11"><circle class="y" cx="584" cy="1961" r="8.7"/></g>
<g id="i1"><circle class="y" cx="772" cy="1748" r="8.7"/></g><g id="i2"><circle class="y" cx="745" cy="1782" r="8.7"/></g><g id="i3"><circle class="y" cx="786" cy="1776" r="8.7"/></g>
<g id="i4"><circle class="y" cx="819" cy="1789" r="8.7"/></g><g id="i5"><circle class="y" cx="734" cy="1818" r="8.7"/></g><g id="i6"><circle class="y" cx="776" cy="1819" r="8.7"/></g>
<g id="i7"><circle class="y" cx="818" cy="1823" r="8.7"/></g><g id="i8"><circle class="y" cx="754" cy="1859" r="8.7"/></g><g id="i9"><circle class="y" cx="799" cy="1859" r="8.7"/></g>
<g id="i10"><circle class="y" cx="714" cy="1923" r="8.7"/></g>
<g id="j1"><circle class="y" cx="1046" cy="1748" r="8.7"/></g><g id="j2"><circle class="y" cx="1088" cy="1756" r="8.7"/></g><g id="j3"><circle class="y" cx="1008" cy="1785" r="8.7"/></g>
<g id="j4"><circle class="y" cx="1117" cy="1797" r="8.7"/></g><g id="j5"><circle class="y" cx="1057" cy="1822" r="8.7"/></g><g id="j6"><circle class="y" cx="985" cy="1849" r="8.7"/></g>
<g id="j7"><circle class="y" cx="929" cy="1897" r="8.7"/></g><g id="j8"><circle class="y" cx="882" cy="1948" r="8.7"/></g><g id="j9"><circle class="y" cx="1093" cy="1886" r="8.7"/></g>
<g id="k1"><circle class="y" cx="1180" cy="1748" r="8.7"/></g><g id="k2"><circle class="y" cx="1202" cy="1814" r="8.7"/></g><g id="k3"><circle class="y" cx="1245" cy="1870" r="8.7"/></g>
<g id="k4"><circle class="y" cx="1303" cy="1910" r="8.7"/></g><g id="k5"><circle class="y" cx="1371" cy="1932" r="8.7"/></g><g id="k6"><circle class="y" cx="1441" cy="1931" r="8.7"/></g>
<g id="k7"><circle class="y" cx="1508" cy="1904" r="8.7"/></g><g id="k8"><circle class="y" cx="1560" cy="1859" r="8.7"/></g>
<g id="l1"><circle class="y" cx="1683" cy="1748" r="8.7"/></g><g id="l2"><circle class="y" cx="1691" cy="1817" r="8.7"/></g><g id="l3"><circle class="y" cx="1622" cy="1821" r="8.7"/></g>
<g id="l4"><circle class="y" cx="1751" cy="1860" r="8.7"/></g><g id="l5"><circle class="y" cx="1810" cy="1847" r="8.7"/></g><g id="l6"><circle class="y" cx="1822" cy="1904" r="8.7"/></g>
<g id="l7"><circle class="y" cx="1774" cy="1915" r="8.7"/></g><g id="l8"><circle class="y" cx="1889" cy="1927" r="8.7"/></g>
<g id="m1"><circle class="y" cx="2016" cy="1748" r="8.7"/></g><g id="m2"><circle class="y" cx="1953" cy="1767" r="8.7"/></g><g id="m3"><circle class="y" cx="2001" cy="1816" r="8.7"/></g>
<g id="m4"><circle class="k" cx="2016" cy="1888" r="8.7"/></g><g id="m5"><circle class="y" cx="1964" cy="1934" r="8.7"/></g><g id="m6"><circle class="y" cx="2083" cy="1919" r="8.7"/></g>
<g id="m7"><circle class="y" cx="2147" cy="1952" r="8.7"/></g><g id="m8"><circle class="y" cx="2213" cy="1974" r="8.7"/></g>
<g id="o1"><circle class="y" cx="2320" cy="1748" r="8.7"/></g><g id="o2"><circle class="y" cx="2387" cy="1762" r="8.7"/></g><g id="o3"><circle class="y" cx="2275" cy="1799" r="8.7"/></g>
<g id="o4"><circle class="y" cx="2343" cy="1811" r="8.7"/></g><g id="o5"><circle class="y" cx="2413" cy="1828" r="8.7"/></g><g id="o6"><circle class="y" cx="2462" cy="1882" r="8.7"/></g>
<g id="o7"><circle class="y" cx="2501" cy="1940" r="8.7"/></g>
<g id="p1"><circle class="y" cx="2618" cy="1748" r="8.7"/></g><g id="p2"><circle class="y" cx="2563" cy="1764" r="8.7"/></g><g id="p3"><circle class="y" cx="2636" cy="1804" r="8.7"/></g>
<g id="p4"><circle class="y" cx="2578" cy="1819" r="8.7"/></g><g id="p5"><circle class="y" cx="2700" cy="1839" r="8.7"/></g><g id="p6"><circle class="y" cx="2760" cy="1873" r="8.7"/></g>
<g id="q1"><circle class="y" cx="2875" cy="1748" r="8.7"/></g><g id="q2"><circle class="y" cx="2823" cy="1788" r="8.7"/></g><g id="q3"><circle class="y" cx="2886" cy="1817" r="8.7"/></g>
<g id="q4"><circle class="y" cx="2934" cy="1870" r="8.7"/></g><g id="q5"><circle class="y" cx="3001" cy="1888" r="8.7"/></g><g id="q6"><circle class="y" cx="2954" cy="1936" r="8.7"/></g>
<g id="g13"><circle class="y" cx="79" cy="2084" r="8.7"/></g><g id="g14"><circle class="y" cx="122" cy="2137" r="8.7"/></g><g id="g15"><circle class="k" cx="162" cy="2194" r="8.7"/></g>
<g id="g16"><circle class="y" cx="218" cy="2234" r="8.7"/></g><g id="g17"><circle class="y" cx="159" cy="2263" r="8.7"/></g>
<g id="w1"><circle class="y" cx="282" cy="2084" r="8.7"/></g><g id="w2"><circle class="y" cx="290" cy="2153" r="8.7"/></g><g id="w3"><circle class="y" cx="305" cy="2222" r="8.7"/></g>
<g id="w4"><circle class="y" cx="353" cy="2271" r="8.7"/></g><g id="w5"><circle class="y" cx="289" cy="2289" r="8.7"/></g>
<g id="x1"><circle class="y" cx="415" cy="2084" r="8.7"/></g><g id="x2"><circle class="y" cx="461" cy="2137" r="8.7"/></g><g id="x3"><circle class="y" cx="530" cy="2138" r="8.7"/></g>
<g id="x4"><circle class="y" cx="453" cy="2205" r="8.7"/></g>
<g id="c1a"><circle class="k" cx="733" cy="2084" r="8.7"/></g><g id="c1b"><circle class="y" cx="681" cy="2127" r="8.7"/></g><g id="c1c"><circle class="y" cx="633" cy="2176" r="8.7"/></g><g id="c1d"><circle class="y" cx="592" cy="2232" r="8.7"/></g>
<g id="c2a"><circle class="y" cx="938" cy="2084" r="8.7"/></g><g id="c2b"><circle class="y" cx="884" cy="2127" r="8.7"/></g><g id="c2c"><circle class="y" cx="837" cy="2176" r="8.7"/></g><g id="c2d"><circle class="y" cx="796" cy="2232" r="8.7"/></g>
<g id="c3a"><circle class="y" cx="1030" cy="2084" r="8.7"/></g><g id="c3b"><circle class="y" cx="1016" cy="2151" r="8.7"/></g><g id="c3c"><circle class="y" cx="1000" cy="2216" r="8.7"/></g>
<g id="c4a"><circle class="y" cx="1092" cy="2084" r="8.7"/></g><g id="c4b"><circle class="y" cx="1144" cy="2127" r="8.7"/></g><g id="c4c"><circle class="y" cx="1195" cy="2172" r="8.7"/></g>
<g id="c5a"><circle class="y" cx="1266" cy="2084" r="8.7"/></g><g id="c5b"><circle class="y" cx="1259" cy="2152" r="8.7"/></g><g id="c5c"><circle class="y" cx="1258" cy="2221" r="8.7"/></g>
<g id="c6a"><circle class="y" cx="1329" cy="2084" r="8.7"/></g><g id="c6b"><circle class="y" cx="1381" cy="2127" r="8.7"/></g><g id="c6c"><circle class="y" cx="1432" cy="2172" r="8.7"/></g>
<g id="c7a"><circle class="y" cx="1502" cy="2084" r="8.7"/></g><g id="c7b"><circle class="y" cx="1496" cy="2152" r="8.7"/></g><g id="c7c"><circle class="y" cx="1494" cy="2221" r="8.7"/></g>
<g id="c8a"><circle class="y" cx="1572" cy="2084" r="8.7"/></g><g id="c8b"><circle class="y" cx="1566" cy="2152" r="8.7"/></g><g id="c8c"><circle class="y" cx="1564" cy="2221" r="8.7"/></g>
<g id="t1a"><circle class="y" cx="1635" cy="2084" r="8.7"/></g><g id="t1b"><circle class="y" cx="1702" cy="2091" r="8.7"/></g><g id="t1c"><circle class="y" cx="1663" cy="2146" r="8.7"/></g>
<g id="t2a"><circle class="k" cx="1764" cy="2084" r="8.7"/></g><g id="t2b"><circle class="y" cx="1832" cy="2091" r="8.7"/></g><g id="t2c"><circle class="y" cx="1792" cy="2146" r="8.7"/></g>
<g id="t3a"><circle class="y" cx="1894" cy="2084" r="8.7"/></g><g id="t3b"><circle class="y" cx="1961" cy="2091" r="8.7"/></g><g id="t3c"><circle class="y" cx="1921" cy="2146" r="8.7"/></g>
<g id="t4a"><circle class="y" cx="2024" cy="2084" r="8.7"/></g><g id="t4b"><circle class="y" cx="2090" cy="2091" r="8.7"/></g><g id="t4c"><circle class="y" cx="2051" cy="2146" r="8.7"/></g>
<g id="c9a"><circle class="y" cx="2153" cy="2084" r="8.7"/></g><g id="c9b"><circle class="y" cx="2205" cy="2127" r="8.7"/></g><g id="c9c"><circle class="y" cx="2256" cy="2172" r="8.7"/></g>
<g id="t5a"><circle class="y" cx="2318" cy="2084" r="8.7"/></g><g id="t5b"><circle class="y" cx="2385" cy="2091" r="8.7"/></g><g id="t5c"><circle class="y" cx="2346" cy="2146" r="8.7"/></g>
<g id="t6a"><circle class="y" cx="2447" cy="2084" r="8.7"/></g><g id="t6b"><circle class="y" cx="2514" cy="2091" r="8.7"/></g><g id="t6c"><circle class="y" cx="2475" cy="2146" r="8.7"/></g>
<g id="c10a"><circle class="y" cx="2585" cy="2084" r="8.7"/></g><g id="c10b"><circle class="y" cx="2580" cy="2152" r="8.7"/></g><g id="c10c"><circle class="y" cx="2577" cy="2221" r="8.7"/></g>
<g id="pr1a"><circle class="y" cx="2649" cy="2084" r="8.7"/></g><g id="pr1b"><circle class="y" cx="2648" cy="2152" r="8.7"/></g>
<g id="pr2a"><circle class="y" cx="2713" cy="2084" r="8.7"/></g><g id="pr2b"><circle class="y" cx="2712" cy="2152" r="8.7"/></g>
<g id="pr3a"><circle class="y" cx="2777" cy="2084" r="8.7"/></g><g id="pr3b"><circle class="y" cx="2776" cy="2152" r="8.7"/></g>
<g id="pr4a"><circle class="y" cx="2841" cy="2084" r="8.7"/></g><g id="pr4b"><circle class="y" cx="2839" cy="2152" r="8.7"/></g>
<g id="pr5a"><circle class="y" cx="2905" cy="2084" r="8.7"/></g><g id="pr5b"><circle class="y" cx="2904" cy="2152" r="8.7"/></g>
<g id="bp0t"><circle class="y" cx="78.6" cy="2352" r="8.7"/></g><g id="bp0b"><circle class="y" cx="78.6" cy="2419" r="8.7"/></g>
<g id="bp1t"><circle class="y" cx="142.5" cy="2352" r="8.7"/></g><g id="bp1b"><circle class="y" cx="142.5" cy="2419" r="8.7"/></g>
<g id="bp2t"><circle class="y" cx="206.4" cy="2352" r="8.7"/></g><g id="bp2b"><circle class="y" cx="206.4" cy="2419" r="8.7"/></g>
<g id="bp3t"><circle class="y" cx="270.2" cy="2352" r="8.7"/></g><g id="bp3b"><circle class="y" cx="270.2" cy="2419" r="8.7"/></g>
<g id="bp4t"><circle class="y" cx="334.1" cy="2352" r="8.7"/></g><g id="bp4b"><circle class="y" cx="334.1" cy="2419" r="8.7"/></g>
<g id="bp5t"><circle class="y" cx="398" cy="2352" r="8.7"/></g><g id="bp5b"><circle class="y" cx="398" cy="2419" r="8.7"/></g>
<g id="bp6t"><circle class="y" cx="461.9" cy="2352" r="8.7"/></g><g id="bp6b"><circle class="y" cx="461.9" cy="2419" r="8.7"/></g>
<g id="bp7t"><circle class="k" cx="525.8" cy="2352" r="8.7"/></g><g id="bp7b"><circle class="y" cx="525.8" cy="2419" r="8.7"/></g>
<g id="bp8t"><circle class="y" cx="589.6" cy="2352" r="8.7"/></g><g id="bp8b"><circle class="y" cx="589.6" cy="2419" r="8.7"/></g>
<g id="bp9t"><circle class="k" cx="653.5" cy="2352" r="8.7"/></g><g id="bp9b"><circle class="k" cx="653.5" cy="2419" r="8.7"/></g>
<g id="bp10t"><circle class="y" cx="717.4" cy="2352" r="8.7"/></g><g id="bp10b"><circle class="y" cx="717.4" cy="2419" r="8.7"/></g>
<g id="bp11t"><circle class="y" cx="781.3" cy="2352" r="8.7"/></g><g id="bp11b"><circle class="y" cx="781.3" cy="2419" r="8.7"/></g>
<g id="bp12t"><circle class="y" cx="845.2" cy="2352" r="8.7"/></g><g id="bp12b"><circle class="y" cx="845.2" cy="2419" r="8.7"/></g>
<g id="bp13t"><circle class="y" cx="909" cy="2352" r="8.7"/></g><g id="bp13b"><circle class="y" cx="909" cy="2419" r="8.7"/></g>
<g id="bp14t"><circle class="y" cx="972.9" cy="2352" r="8.7"/></g><g id="bp14b"><circle class="y" cx="972.9" cy="2419" r="8.7"/></g>
<g id="bp15t"><circle class="y" cx="1036.8" cy="2352" r="8.7"/></g><g id="bp15b"><circle class="y" cx="1036.8" cy="2419" r="8.7"/></g>
<g id="bp16t"><circle class="y" cx="1100.7" cy="2352" r="8.7"/></g><g id="bp16b"><circle class="y" cx="1100.7" cy="2419" r="8.7"/></g>
<g id="bp17t"><circle class="y" cx="1164.6" cy="2352" r="8.7"/></g><g id="bp17b"><circle class="y" cx="1164.6" cy="2419" r="8.7"/></g>
<g id="bp18t"><circle class="k" cx="1228.4" cy="2352" r="8.7"/></g><g id="bp18b"><circle class="y" cx="1228.4" cy="2419" r="8.7"/></g>
<g id="bp19t"><circle class="y" cx="1292.3" cy="2352" r="8.7"/></g><g id="bp19b"><circle class="y" cx="1292.3" cy="2419" r="8.7"/></g>
<g id="bp20t"><circle class="y" cx="1356.2" cy="2352" r="8.7"/></g><g id="bp20b"><circle class="y" cx="1356.2" cy="2419" r="8.7"/></g>
<g id="bp21t"><circle class="y" cx="1420.1" cy="2352" r="8.7"/></g><g id="bp21b"><circle class="y" cx="1420.1" cy="2419" r="8.7"/></g>
<g id="bp22t"><circle class="y" cx="1484" cy="2352" r="8.7"/></g><g id="bp22b"><circle class="k" cx="1484" cy="2419" r="8.7"/></g>
<g id="bp23t"><circle class="y" cx="1547.8" cy="2352" r="8.7"/></g><g id="bp23b"><circle class="y" cx="1547.8" cy="2419" r="8.7"/></g>
<g id="bp24t"><circle class="y" cx="1611.7" cy="2352" r="8.7"/></g><g id="bp24b"><circle class="y" cx="1611.7" cy="2419" r="8.7"/></g>
<g id="bp25t"><circle class="y" cx="1675.6" cy="2352" r="8.7"/></g><g id="bp25b"><circle class="y" cx="1675.6" cy="2419" r="8.7"/></g>
<g id="bp26t"><circle class="y" cx="1739.5" cy="2352" r="8.7"/></g><g id="bp26b"><circle class="y" cx="1739.5" cy="2419" r="8.7"/></g>
<g id="bp27t"><circle class="y" cx="1803.4" cy="2352" r="8.7"/></g><g id="bp27b"><circle class="y" cx="1803.4" cy="2419" r="8.7"/></g>
<g id="bp28t"><circle class="y" cx="1867.2" cy="2352" r="8.7"/></g><g id="bp28b"><circle class="y" cx="1867.2" cy="2419" r="8.7"/></g>
<g id="bp29t"><circle class="y" cx="1931.1" cy="2352" r="8.7"/></g><g id="bp29b"><circle class="y" cx="1931.1" cy="2419" r="8.7"/></g>
<g id="bp30t"><circle class="y" cx="1995" cy="2352" r="8.7"/></g><g id="bp30b"><circle class="y" cx="1995" cy="2419" r="8.7"/></g>
<g id="bp31t"><circle class="y" cx="2058.9" cy="2352" r="8.7"/></g><g id="bp31b"><circle class="y" cx="2058.9" cy="2419" r="8.7"/></g>
<g id="bp32t"><circle class="y" cx="2122.8" cy="2352" r="8.7"/></g><g id="bp32b"><circle class="y" cx="2122.8" cy="2419" r="8.7"/></g>
<g id="bp33t"><circle class="y" cx="2186.6" cy="2352" r="8.7"/></g><g id="bp33b"><circle class="y" cx="2186.6" cy="2419" r="8.7"/></g>
<g id="special"><circle cx="2250.5" cy="2352" r="7.2" fill="#6f8c8e" stroke="#2f3b3c" stroke-width="1.4"/><rect x="2246.5" y="2347" width="3" height="4" fill="#1f4fa8"/><rect x="2249.5" y="2352" width="5" height="3" fill="#2a62c0"/></g>
</g>
</svg>
